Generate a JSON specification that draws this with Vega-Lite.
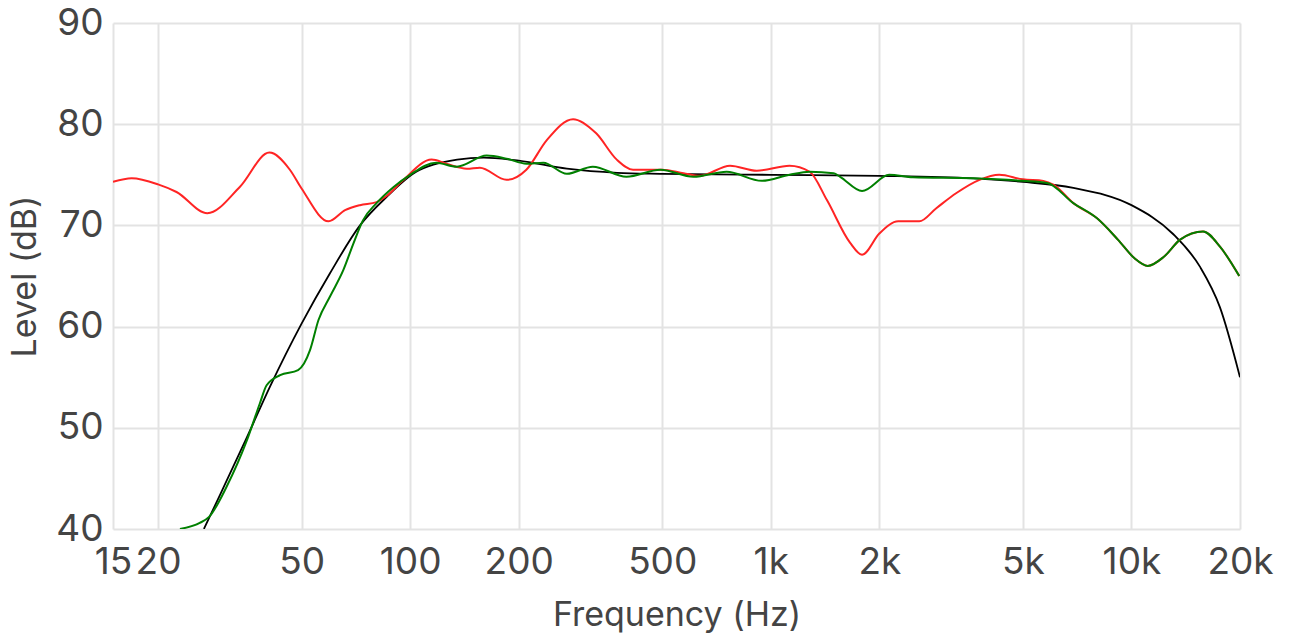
{
  "$schema": "https://vega.github.io/schema/vega-lite/v6.json",
  "width": 1127,
  "height": 506,
  "autosize": "none",
  "padding": {"left": 113, "top": 23, "right": 51, "bottom": 109},
  "background": "white",
  "config": {"view": {"stroke": null}},
  "data": {"values": [
    {"s": "target", "f": 26.8, "v": 40},
    {"s": "target", "f": 30, "v": 43.7},
    {"s": "target", "f": 35, "v": 48.8},
    {"s": "target", "f": 40.9, "v": 54.1},
    {"s": "target", "f": 50, "v": 60.3},
    {"s": "target", "f": 60, "v": 65.3},
    {"s": "target", "f": 72.6, "v": 70.0},
    {"s": "target", "f": 86, "v": 72.8},
    {"s": "target", "f": 104, "v": 75.3},
    {"s": "target", "f": 116, "v": 76.0},
    {"s": "target", "f": 135, "v": 76.5},
    {"s": "target", "f": 160, "v": 76.7},
    {"s": "target", "f": 200, "v": 76.4},
    {"s": "target", "f": 272, "v": 75.6},
    {"s": "target", "f": 375, "v": 75.2},
    {"s": "target", "f": 500, "v": 75.1},
    {"s": "target", "f": 1000, "v": 75.0},
    {"s": "target", "f": 2000, "v": 74.9},
    {"s": "target", "f": 3640, "v": 74.65},
    {"s": "target", "f": 5000, "v": 74.3},
    {"s": "target", "f": 6900, "v": 73.7},
    {"s": "target", "f": 10000, "v": 72.0},
    {"s": "target", "f": 13000, "v": 69.2},
    {"s": "target", "f": 15500, "v": 65.9},
    {"s": "target", "f": 17600, "v": 61.9},
    {"s": "target", "f": 20000, "v": 55.0},

    {"s": "measured", "f": 15, "v": 74.3},
    {"s": "measured", "f": 16.9, "v": 74.65},
    {"s": "measured", "f": 20, "v": 74.05},
    {"s": "measured", "f": 22.5, "v": 73.3},
    {"s": "measured", "f": 27.4, "v": 71.2},
    {"s": "measured", "f": 33.7, "v": 73.8},
    {"s": "measured", "f": 40.7, "v": 77.2},
    {"s": "measured", "f": 46.4, "v": 75.5},
    {"s": "measured", "f": 50, "v": 73.65},
    {"s": "measured", "f": 59.4, "v": 70.4},
    {"s": "measured", "f": 66, "v": 71.5},
    {"s": "measured", "f": 72.6, "v": 72.0},
    {"s": "measured", "f": 80.7, "v": 72.3},
    {"s": "measured", "f": 86, "v": 72.9},
    {"s": "measured", "f": 95.2, "v": 74.4},
    {"s": "measured", "f": 114.7, "v": 76.5},
    {"s": "measured", "f": 126, "v": 76.1},
    {"s": "measured", "f": 143.6, "v": 75.6},
    {"s": "measured", "f": 156, "v": 75.7},
    {"s": "measured", "f": 185, "v": 74.5},
    {"s": "measured", "f": 210, "v": 75.5},
    {"s": "measured", "f": 239, "v": 78.4},
    {"s": "measured", "f": 283, "v": 80.5},
    {"s": "measured", "f": 328, "v": 79.1},
    {"s": "measured", "f": 374, "v": 76.5},
    {"s": "measured", "f": 415, "v": 75.5},
    {"s": "measured", "f": 500, "v": 75.5},
    {"s": "measured", "f": 573, "v": 75.15},
    {"s": "measured", "f": 636, "v": 74.9},
    {"s": "measured", "f": 771, "v": 75.9},
    {"s": "measured", "f": 914, "v": 75.4},
    {"s": "measured", "f": 1127, "v": 75.9},
    {"s": "measured", "f": 1282, "v": 75.3},
    {"s": "measured", "f": 1431, "v": 72.5},
    {"s": "measured", "f": 1658, "v": 68.3},
    {"s": "measured", "f": 1791, "v": 67.1},
    {"s": "measured", "f": 2000, "v": 69.2},
    {"s": "measured", "f": 2256, "v": 70.4},
    {"s": "measured", "f": 2580, "v": 70.4},
    {"s": "measured", "f": 2877, "v": 71.7},
    {"s": "measured", "f": 3272, "v": 73.2},
    {"s": "measured", "f": 3790, "v": 74.5},
    {"s": "measured", "f": 4300, "v": 75.0},
    {"s": "measured", "f": 5000, "v": 74.55},
    {"s": "measured", "f": 5700, "v": 74.4},
    {"s": "measured", "f": 6090, "v": 74.0},
    {"s": "measured", "f": 6900, "v": 72.2},
    {"s": "measured", "f": 8030, "v": 70.7},
    {"s": "measured", "f": 9170, "v": 68.6},
    {"s": "measured", "f": 10200, "v": 66.75},
    {"s": "measured", "f": 11100, "v": 66.0},
    {"s": "measured", "f": 12300, "v": 66.9},
    {"s": "measured", "f": 13650, "v": 68.6},
    {"s": "measured", "f": 15800, "v": 69.4},
    {"s": "measured", "f": 17600, "v": 67.9},
    {"s": "measured", "f": 19900, "v": 65.0},

    {"s": "corrected", "f": 23, "v": 40},
    {"s": "corrected", "f": 26.1, "v": 40.6},
    {"s": "corrected", "f": 27.7, "v": 41.2},
    {"s": "corrected", "f": 31, "v": 44.2},
    {"s": "corrected", "f": 35.3, "v": 48.8},
    {"s": "corrected", "f": 38.3, "v": 52.4},
    {"s": "corrected", "f": 40, "v": 54.2},
    {"s": "corrected", "f": 43.6, "v": 55.2},
    {"s": "corrected", "f": 48.9, "v": 55.7},
    {"s": "corrected", "f": 52.8, "v": 57.7},
    {"s": "corrected", "f": 55.7, "v": 60.65},
    {"s": "corrected", "f": 60, "v": 63.0},
    {"s": "corrected", "f": 65.3, "v": 65.6},
    {"s": "corrected", "f": 69.6, "v": 68.2},
    {"s": "corrected", "f": 74, "v": 70.5},
    {"s": "corrected", "f": 80.7, "v": 72.2},
    {"s": "corrected", "f": 90, "v": 73.8},
    {"s": "corrected", "f": 100, "v": 75.0},
    {"s": "corrected", "f": 118, "v": 76.2},
    {"s": "corrected", "f": 134.7, "v": 75.8},
    {"s": "corrected", "f": 163, "v": 76.9},
    {"s": "corrected", "f": 185, "v": 76.6},
    {"s": "corrected", "f": 210, "v": 76.1},
    {"s": "corrected", "f": 234, "v": 76.2},
    {"s": "corrected", "f": 272, "v": 75.1},
    {"s": "corrected", "f": 321, "v": 75.8},
    {"s": "corrected", "f": 398, "v": 74.8},
    {"s": "corrected", "f": 494, "v": 75.5},
    {"s": "corrected", "f": 610, "v": 74.8},
    {"s": "corrected", "f": 754, "v": 75.3},
    {"s": "corrected", "f": 944, "v": 74.4},
    {"s": "corrected", "f": 1127, "v": 75.0},
    {"s": "corrected", "f": 1282, "v": 75.3},
    {"s": "corrected", "f": 1494, "v": 75.15},
    {"s": "corrected", "f": 1557, "v": 74.8},
    {"s": "corrected", "f": 1791, "v": 73.4},
    {"s": "corrected", "f": 2130, "v": 75.0},
    {"s": "corrected", "f": 2478, "v": 74.75},
    {"s": "corrected", "f": 3640, "v": 74.65},
    {"s": "corrected", "f": 5000, "v": 74.4},
    {"s": "corrected", "f": 5840, "v": 74.2},
    {"s": "corrected", "f": 6900, "v": 72.2},
    {"s": "corrected", "f": 8030, "v": 70.7},
    {"s": "corrected", "f": 9170, "v": 68.6},
    {"s": "corrected", "f": 10200, "v": 66.75},
    {"s": "corrected", "f": 11100, "v": 66.0},
    {"s": "corrected", "f": 12300, "v": 66.9},
    {"s": "corrected", "f": 13650, "v": 68.6},
    {"s": "corrected", "f": 15800, "v": 69.4},
    {"s": "corrected", "f": 17600, "v": 67.9},
    {"s": "corrected", "f": 19900, "v": 65.0}
  ]},
  "encoding": {
    "x": {
      "field": "f", "type": "quantitative",
      "scale": {"type": "log", "domain": [15, 20000], "nice": false},
      "axis": {
        "values": [15, 20, 50, 100, 200, 500, 1000, 2000, 5000, 10000, 20000],
        "labelExpr": "datum.value >= 1000 ? (datum.value / 1000) + 'k' : datum.value",
        "grid": true, "gridColor": "#e3e3e3", "gridWidth": 2,
        "domain": false, "ticks": false,
        "labelFont": "Inter", "labelFontSize": 37, "labelColor": "#444444",
        "labelPadding": 15, "labelFlush": false, "labelOverlap": false, "labelBound": false,
        "title": "Frequency (Hz)", "titleFont": "Inter", "titleFontSize": 34,
        "titleFontWeight": "normal", "titleColor": "#444444", "titlePadding": 18
      }
    },
    "y": {
      "field": "v", "type": "quantitative",
      "scale": {"domain": [40, 90], "nice": false, "zero": false},
      "axis": {
        "values": [40, 50, 60, 70, 80, 90],
        "grid": true, "gridColor": "#e3e3e3", "gridWidth": 2,
        "domain": false, "ticks": false,
        "labelFont": "Inter", "labelFontSize": 37, "labelColor": "#444444",
        "labelPadding": 10, "labelFlush": false, "labelOverlap": false, "labelBound": false,
        "title": "Level (dB)", "titleFont": "Inter", "titleFontSize": 34,
        "titleFontWeight": "normal", "titleColor": "#444444", "titlePadding": 13
      }
    }
  },
  "layer": [
    {
      "transform": [{"filter": "datum.s === 'target'"}],
      "mark": {"type": "line", "color": "#000000", "strokeWidth": 1.8, "interpolate": "monotone", "clip": true}
    },
    {
      "transform": [{"filter": "datum.s === 'measured'"}],
      "mark": {"type": "line", "color": "#ff2424", "strokeWidth": 2, "interpolate": "monotone", "clip": true}
    },
    {
      "transform": [{"filter": "datum.s === 'corrected'"}],
      "mark": {"type": "line", "color": "#008000", "strokeWidth": 2, "interpolate": "monotone", "clip": true}
    }
  ]
}
